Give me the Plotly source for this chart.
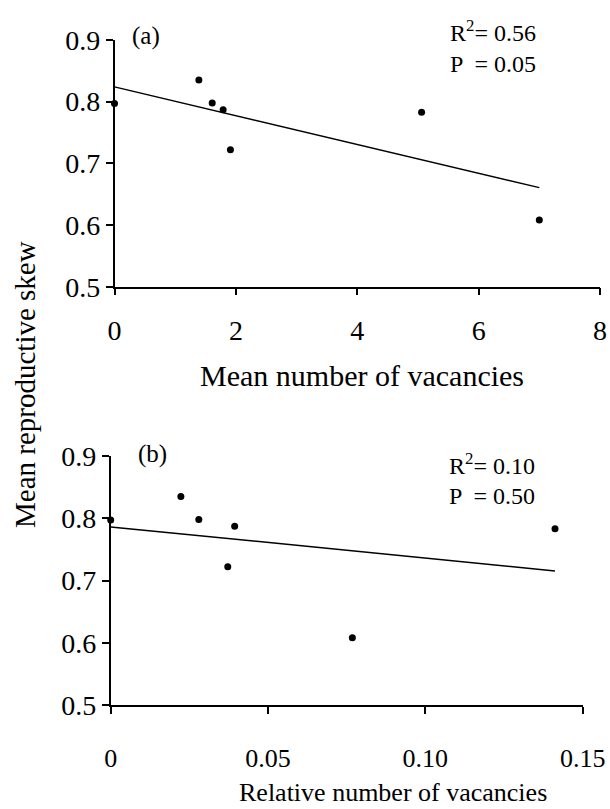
import numpy as np
import plotly.graph_objects as go

# ---- data ----
skew = [0.797, 0.835, 0.798, 0.787, 0.722, 0.783, 0.608]          # mean reproductive skew
mean_vac = [0.0, 1.39, 1.61, 1.79, 1.91, 5.06, 7.0]                # panel (a) x
rel_vac = [0.0, 0.0223, 0.0280, 0.0394, 0.0372, 0.1412, 0.0768]    # panel (b) x

y_ticks = [0.5, 0.6, 0.7, 0.8, 0.9]
y_tick_text = ["0.5", "0.6", "0.7", "0.8", "0.9"]
xa_ticks = [0, 2, 4, 6, 8]
xa_tick_text = ["0", "2", "4", "6", "8"]
xb_ticks = [0, 0.05, 0.10, 0.15]
xb_tick_text = ["0", "0.05", "0.10", "0.15"]

stats_a = ("0.56", "0.05")
stats_b = ("0.10", "0.50")

W, H = 610, 809
FONT = "Liberation Serif, Times New Roman, serif"


def fit_line(x, y):
    slope, intercept = np.polyfit(x, y, 1)
    xs = np.array([min(x), max(x)])
    return xs, intercept + slope * xs


fig = go.Figure()

for xdata, xa, ya in [(mean_vac, "x", "y"), (rel_vac, "x2", "y2")]:
    lx, ly = fit_line(xdata, skew)
    fig.add_trace(go.Scatter(x=lx, y=ly, mode="lines", xaxis=xa, yaxis=ya,
                             line=dict(color="black", width=1.5),
                             showlegend=False, hoverinfo="skip"))
    fig.add_trace(go.Scatter(x=xdata, y=skew, mode="markers", xaxis=xa, yaxis=ya,
                             marker=dict(color="black", size=7),
                             cliponaxis=False, showlegend=False))


def px(v):
    return v / W


def py(v):
    return 1 - v / H


axis_common = dict(showline=True, linecolor="black", linewidth=1.5,
                   ticks="outside", ticklen=7, tickwidth=1.5, tickcolor="black",
                   showgrid=False, zeroline=False, mirror=False, automargin=False,
                   ticklabeloverflow="allow")

fig.update_layout(
    template="none",
    width=W, height=H,
    margin=dict(l=0, r=0, t=0, b=0),
    paper_bgcolor="white", plot_bgcolor="white",
    font=dict(family=FONT, color="black"),
    xaxis=dict(domain=[px(114.5), px(600)], range=[0, 8], anchor="y",
               tickvals=xa_ticks, ticktext=xa_tick_text,
               tickfont=dict(size=28), ticklabelstandoff=11, **axis_common),
    yaxis=dict(domain=[py(286.7), py(40)], range=[0.5, 0.9], anchor="x",
               tickvals=y_ticks, ticktext=y_tick_text,
               tickfont=dict(size=28), **axis_common),
    xaxis2=dict(domain=[px(110.7), px(582.7)], range=[0, 0.15], anchor="y2",
                tickvals=xb_ticks, ticktext=xb_tick_text,
                tickfont=dict(size=26), ticklabelstandoff=22, **axis_common),
    yaxis2=dict(domain=[py(705), py(456)], range=[0.5, 0.9], anchor="x2",
                tickvals=y_ticks, ticktext=y_tick_text,
                tickfont=dict(size=28), **axis_common),
)

ann = []


def add(text, x, y, size, xanchor="center", yanchor="middle", angle=0):
    ann.append(dict(text=text, x=px(x), y=py(y), xref="paper", yref="paper",
                    xanchor=xanchor, yanchor=yanchor, showarrow=False,
                    textangle=angle, font=dict(size=size, family=FONT, color="black")))


add("(a)", 146, 36, 25)
add("R<sup>2</sup>= " + stats_a[0], 448, 31, 24, xanchor="left")
add("P  = " + stats_a[1], 448, 64, 24, xanchor="left")
add("(b)", 152, 454, 25)
add("R<sup>2</sup>= " + stats_b[0], 447, 464, 24, xanchor="left")
add("P  = " + stats_b[1], 447, 496, 24, xanchor="left")
add("Mean reproductive skew", 25, 385, 29, angle=-90)
add("Mean number of vacancies", 362, 375, 30)
add("Relative number of vacancies", 393, 792, 26)

fig.update_layout(annotations=ann)
fig.write_html(
    "out.html",
    config={"displayModeBar": False},
    post_script="document.body.style.margin='0';document.body.style.overflow='hidden';",
)
